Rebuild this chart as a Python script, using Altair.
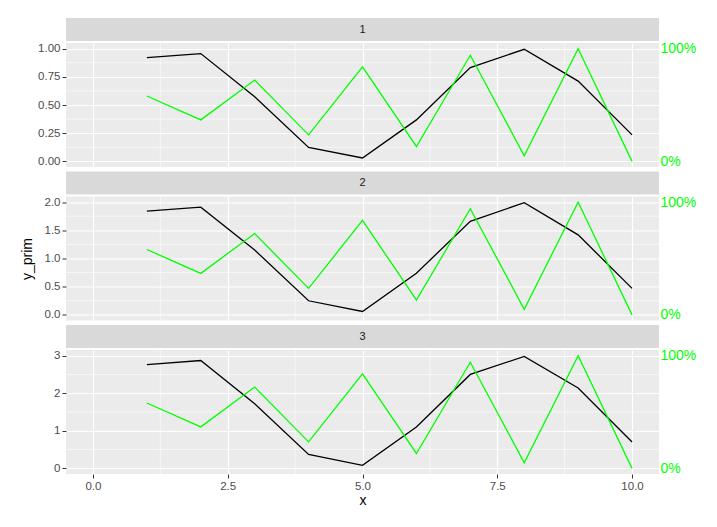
import altair as alt
import pandas as pd

# ---- data ----
x_vals = [1, 2, 3, 4, 5, 6, 7, 8, 9, 10]
y_prim_1 = [0.92, 0.956, 0.574, 0.124, 0.03, 0.368, 0.832, 0.994, 0.712, 0.235]
y_prim_2 = [1.84, 1.91, 1.15, 0.25, 0.06, 0.74, 1.66, 1.99, 1.42, 0.47]
y_prim_3 = [2.76, 2.87, 1.72, 0.37, 0.08, 1.10, 2.50, 2.98, 2.14, 0.70]
y_sec = [0.58, 0.368, 0.721, 0.235, 0.838, 0.132, 0.941, 0.05, 1.0, 0.0]
facet_labels = ["1", "2", "3"]

x_ticks = [0, 2.5, 5, 7.5, 10]
x_minor = [1.25, 3.75, 6.25, 8.75]
y_major = [[0, 0.25, 0.5, 0.75, 1.0], [0, 0.5, 1.0, 1.5, 2.0], [0, 1, 2, 3]]
y_minor = [[0.125, 0.375, 0.625, 0.875], [0.25, 0.75, 1.25, 1.75], [0.5, 1.5, 2.5]]
y_formats = [".2f", ".1f", "d"]
y_domains = [[-0.05, 1.05], [-0.1, 2.1], [-0.15, 3.15]]
sec_ticks = [0, 1]
sec_domain = [-0.05, 1.05]
x_domain = [-0.5, 10.5]

FONT = "Liberation Sans"
W, H, STRIP_H = 593, 124, 23
GREEN = "#00FF00"

y_prims = [y_prim_1, y_prim_2, y_prim_3]


def strip(label):
    return alt.Chart(pd.DataFrame({"facet": [label]})).mark_text(
        font=FONT, fontSize=11, color="#1A1A1A", baseline="middle"
    ).encode(
        text="facet:N", x=alt.value(W / 2), y=alt.value(STRIP_H / 2)
    ).properties(
        width=W, height=STRIP_H,
        view=alt.ViewBackground(fill="#D9D9D9", strokeWidth=0),
    )


def panel(i):
    df = pd.DataFrame({"x": x_vals, "y_prim": y_prims[i], "y_sec": y_sec})
    xscale = alt.Scale(domain=x_domain, nice=False, zero=False)
    yscale = alt.Scale(domain=y_domains[i], nice=False, zero=False)
    last = i == 2
    if last:
        xaxis = alt.Axis(values=x_ticks, format=".1f", grid=True, gridColor="white",
                         gridWidth=1.2, title="x", labelPadding=2, titlePadding=2)
    else:
        xaxis = alt.Axis(values=x_ticks, grid=True, gridColor="white", gridWidth=1.2,
                         labels=False, ticks=False, title=None)
    yaxis_kw = dict(values=y_major[i], format=y_formats[i], grid=True,
                    gridColor="white", gridWidth=1.2, labelPadding=2)
    if i == 1:
        yaxis_kw["title"] = "y_prim"
        yaxis_kw["titlePadding"] = 10
    else:
        yaxis_kw["title"] = None

    vx = alt.Chart(pd.DataFrame({"x": x_minor})).mark_rule(
        color="white", strokeWidth=0.6
    ).encode(x=alt.X("x:Q", scale=xscale, axis=xaxis))
    vy = alt.Chart(pd.DataFrame({"y": y_minor[i]})).mark_rule(
        color="white", strokeWidth=0.6
    ).encode(y=alt.Y("y:Q", scale=yscale, axis=None))
    black = alt.Chart(df).mark_line(color="black", strokeWidth=1.3).encode(
        x=alt.X("x:Q", scale=xscale, axis=xaxis),
        y=alt.Y("y_prim:Q", scale=yscale, axis=alt.Axis(**yaxis_kw)),
    )
    green = alt.Chart(df).mark_line(color=GREEN, strokeWidth=1.3).encode(
        x=alt.X("x:Q", scale=xscale, axis=xaxis),
        y=alt.Y("y_sec:Q", scale=alt.Scale(domain=sec_domain, nice=False, zero=False),
                axis=alt.Axis(orient="right", values=sec_ticks, format=".0%",
                              labelColor=GREEN, labelFontSize=14, ticks=False,
                              tickSize=0, grid=False, labelPadding=1, title=None)),
    )
    return alt.layer(vx, vy, black, green).resolve_scale(y="independent").properties(
        width=W, height=H,
        view=alt.ViewBackground(fill="#EBEBEB", strokeWidth=0),
    )


blocks = [alt.vconcat(strip(facet_labels[i]), panel(i), spacing=0) for i in range(3)]

chart = alt.vconcat(*blocks, spacing=2.5).properties(
    padding={"left": 20, "top": 18, "right": 5, "bottom": 5},
    background="white",
).configure_view(strokeWidth=0).configure_axis(
    labelFont=FONT, titleFont=FONT, labelColor="#4D4D4D", labelFontSize=11.5,
    tickColor="#333333", tickSize=4, domain=False, titleFontSize=14,
    titleFontWeight="normal", titleColor="black",
)

chart.save("out.html", embed_options={"renderer": "svg", "actions": False})
